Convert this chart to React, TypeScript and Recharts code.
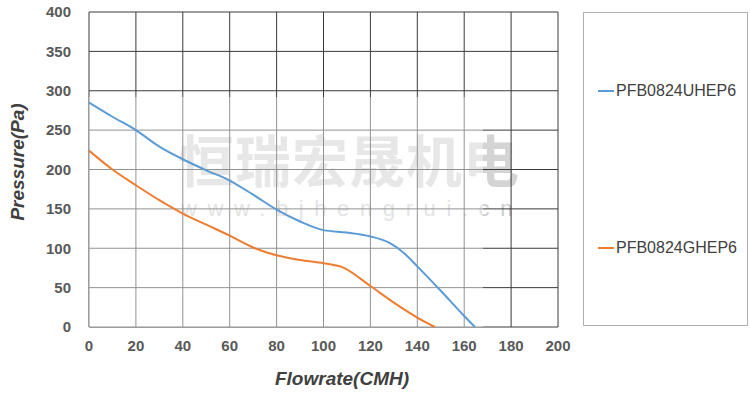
import { LineChart, Line, XAxis, YAxis, CartesianGrid, ReferenceArea } from 'recharts';

const X_TICKS = [0, 20, 40, 60, 80, 100, 120, 140, 160, 180, 200];
const Y_TICKS = [0, 50, 100, 150, 200, 250, 300, 350, 400];

const UHEP6_FLOW = [0, 10, 20, 30, 40, 50, 60, 70, 80, 90, 100, 110, 120, 128, 135, 140, 150, 160, 164.6];
const UHEP6_PRESSURE = [285, 267, 250, 229, 213, 199, 186, 168, 149, 134, 123, 120, 115, 107, 92, 77, 46, 14, 0];

const GHEP6_FLOW = [0, 10, 20, 30, 40, 50, 60, 70, 80, 90, 100, 108, 120, 130, 140, 147.5];
const GHEP6_PRESSURE = [224, 200, 180, 161, 144, 130, 116, 101, 91, 85, 81, 76, 52, 31, 12, 0];

const SERIES_NAMES = ['PFB0824UHEP6', 'PFB0824GHEP6'];
const COLORS = ['#5b9bd5', '#ed7d31'];

const toPoints = (xs: number[], ys: number[]) => xs.map((x, i) => ({ flow: x, pressure: ys[i] }));

const tickStyle = { fontFamily: 'Liberation Sans, Arial', fontWeight: 'bold', fontSize: 15, fill: '#595959' };

const titleStyle = {
  position: 'absolute' as const,
  fontFamily: 'Liberation Sans, Arial',
  fontWeight: 'bold',
  fontStyle: 'italic',
  fontSize: 19,
  color: '#404040',
  whiteSpace: 'nowrap' as const,
};

// legend in its own box on the right
function LegendBox() {
  return (
    <div
      style={{
        position: 'absolute',
        left: 583,
        top: 12,
        width: 165,
        height: 314,
        border: '1px solid #b0b0b0',
        boxSizing: 'border-box',
        fontFamily: 'Liberation Sans, Arial',
        fontSize: 16,
        color: '#404040',
      }}
    >
      {SERIES_NAMES.map((name, i) => (
        <div
          key={name}
          style={{ position: 'absolute', left: 14, top: i === 0 ? 69 : 226, display: 'flex', alignItems: 'center' }}
        >
          <span style={{ display: 'inline-block', width: 16, height: 2, background: COLORS[i], marginRight: 2 }} />
          {name}
        </div>
      ))}
    </div>
  );
}

export default function App() {
  return (
    <div style={{ position: 'absolute', left: 0, top: 0, width: 750, height: 394, background: '#fff' }}>
      {/* watermark behind the grid */}
      <div
        style={{
          position: 'absolute',
          left: 178,
          top: 128,
          fontFamily: 'Noto Sans CJK SC',
          fontWeight: 'bold',
          fontSize: 56,
          letterSpacing: 1,
          color: '#d4d4d4',
          lineHeight: '60px',
        }}
      >
        恒瑞宏晟机电
      </div>
      <div
        style={{
          position: 'absolute',
          left: 181,
          top: 196,
          fontFamily: 'Liberation Sans, Arial',
          fontSize: 22,
          letterSpacing: 10.6,
          color: '#cccccc',
        }}
      >
        www.bjhengrui.cn
      </div>
      <LineChart
        width={750}
        height={394}
        margin={{ top: 12, right: 192, bottom: 37, left: 29 }}
        style={{ position: 'absolute', left: 0, top: 0 }}
      >
        <CartesianGrid stroke="#3a3a3a" strokeWidth={1} />
        <ReferenceArea x1={0} x2={168} y1={0} y2={292} fill="#ffffff" fillOpacity={0.45} stroke="none" />
        <XAxis
          type="number"
          dataKey="flow"
          domain={[0, 200]}
          ticks={X_TICKS}
          height={30}
          axisLine={false}
          tickLine={false}
          tickSize={0}
          tickMargin={13}
          tick={tickStyle}
          allowDataOverflow
        />
        <YAxis
          type="number"
          dataKey="pressure"
          domain={[0, 400]}
          ticks={Y_TICKS}
          width={60}
          axisLine={false}
          tickLine={false}
          tickSize={0}
          tickMargin={18}
          tick={tickStyle}
        />
        <Line
          data={toPoints(UHEP6_FLOW, UHEP6_PRESSURE)}
          dataKey="pressure"
          name={SERIES_NAMES[0]}
          type="monotone"
          stroke={COLORS[0]}
          strokeWidth={2}
          dot={false}
          isAnimationActive={false}
        />
        <Line
          data={toPoints(GHEP6_FLOW, GHEP6_PRESSURE)}
          dataKey="pressure"
          name={SERIES_NAMES[1]}
          type="monotone"
          stroke={COLORS[1]}
          strokeWidth={2}
          dot={false}
          isAnimationActive={false}
        />
      </LineChart>
      <LegendBox />
      <div style={{ ...titleStyle, left: 18, top: 162, transform: 'translate(-50%, -50%) rotate(-90deg)' }}>
        Pressure(Pa)
      </div>
      <div style={{ ...titleStyle, left: 342, top: 379, transform: 'translate(-50%, -50%)' }}>
        Flowrate(CMH)
      </div>
    </div>
  );
}
